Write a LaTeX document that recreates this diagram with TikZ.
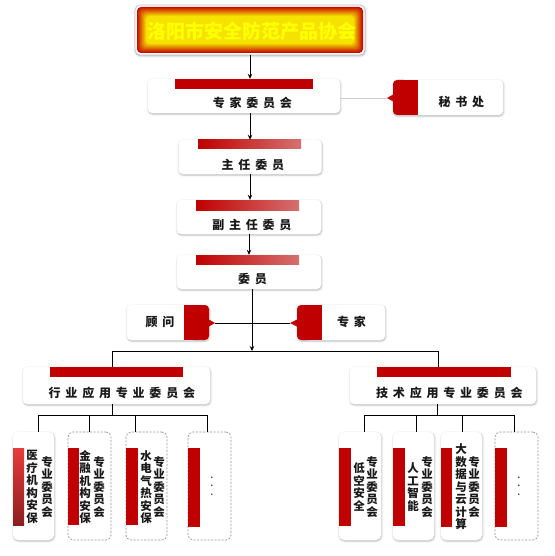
\documentclass[tikz,border=0pt]{standalone}
\usepackage{fontspec}
\newfontfamily\cjk{Noto Sans CJK SC}
\newfontfamily\cjksp{Noto Sans CJK SC}[LetterSpace=40]
\usetikzlibrary{arrows.meta,shadows.blur}
\definecolor{barred}{RGB}{192,0,0}
\definecolor{barlite}{RGB}{214,112,112}
\definecolor{glowred}{RGB}{200,10,0}
\definecolor{glowyel}{RGB}{245,228,0}
\definecolor{titleyel}{RGB}{255,255,0}
\definecolor{txt}{RGB}{25,25,25}
\definecolor{dashgray}{RGB}{150,150,150}
\definecolor{bartop}{RGB}{232,60,60}
\definecolor{barbot}{RGB}{140,30,30}
\begin{document}
\begin{tikzpicture}[x=1pt,y=-1pt,
  box/.style={fill=white, rounded corners=4pt, inner sep=0pt,
    blur shadow={shadow xshift=0.5pt, shadow yshift=-1pt, shadow blur radius=2pt, shadow opacity=30}},
  dbox/.style={fill=white, draw=dashgray, dash pattern=on 2pt off 1.5pt, line width=0.7pt, rounded corners=5pt, inner sep=0pt},
  lbl/.style={font=\cjksp\bfseries\fontsize{12}{12}\selectfont, text=txt, inner sep=0pt},
  vlbl/.style={font=\cjk\bfseries\fontsize{11.5}{12.5}\selectfont, text=txt, inner sep=0pt, align=center},
  dotlbl/.style={font=\bfseries\fontsize{9.5}{8.5}\selectfont, text=txt, inner sep=0pt, align=center},
  ttl/.style={font=\cjk\bfseries\fontsize{19}{19}\selectfont, inner sep=0pt},
  conn/.style={draw=black, line width=1pt},
  arr/.style={conn, -{Stealth[length=5pt,width=4.5pt]}},
  gbar/.style={left color=barred, right color=barlite},
]
\useasboundingbox (0,0) rectangle (554,556);

% ---- title
\node[box, draw=gray!50, line width=0.6pt, rounded corners=5pt, minimum width=230pt, minimum height=50pt] (title) at (250,30) {};
\foreach \i in {0,...,9} {
  \pgfmathtruncatemacro\pc{\i*11}
  \fill[glowyel!\pc!glowred, rounded corners=4pt] ({137+\i},{7+\i}) rectangle ({363-\i},{53-\i});
}
\node[ttl, text=titleyel] (titletxt) at (252,31) {洛阳市安全防范产品协会};

% ---- main chain
\node[box, minimum width=192pt, minimum height=34pt] (zjwyh) at (244,96) {};
\fill[barred] (175,79) rectangle (313,89);
\node[lbl] (zjwyht) at (252.4,103) {专家委员会};

\node[box, minimum width=143pt, minimum height=34pt] (zrwy) at (250,157) {};
\shade[gbar] (198,140) rectangle (301,149);
\node[lbl] (zrwyt) at (252.9,165) {主任委员};

\node[box, minimum width=144pt, minimum height=34pt] (fzrwy) at (249,217) {};
\shade[gbar] (196,200) rectangle (299,210);
\node[lbl] (fzrwyt) at (251.9,225) {副主任委员};

\node[box, minimum width=144pt, minimum height=34pt] (wy) at (249,272) {};
\shade[gbar] (196,255) rectangle (299,264);
\node[lbl] (wyt) at (252.4,279) {委员};

% ---- secretary callout
\node[box, minimum width=110pt, minimum height=35pt] (mss) at (448,97.5) {};
\fill[barred] (402,80) rectangle (418,115);
\fill[barred, rounded corners=4pt] (393,80) rectangle (408,115);
\coordinate (msstip) at (387,98);
\fill[barred] (394,94) -- (msstip) -- (394,102) -- cycle;
\node[lbl] (msst) at (461.4,102) {秘书处};
\draw[draw=black!20, line width=0.8pt] (zjwyh.east |- msstip) -- (msstip);

% ---- advisers / experts callouts
\node[box, minimum width=82pt, minimum height=35pt] (gw) at (168,322.5) {};
\fill[barred] (184,305) rectangle (200,340);
\fill[barred, rounded corners=4pt] (190,305) rectangle (209,340);
\coordinate (gwtip) at (215,323);
\fill[barred] (208,319) -- (gwtip) -- (208,327) -- cycle;
\node[lbl] (gwt) at (160,322) {顾问};

\node[box, minimum width=88pt, minimum height=35pt] (zj) at (341,322.5) {};
\fill[barred] (306,305) rectangle (322,340);
\fill[barred, rounded corners=4pt] (297,305) rectangle (312,340);
\coordinate (zjtip) at (290,323);
\fill[barred] (298,319) -- (zjtip) -- (298,327) -- cycle;
\node[lbl] (zjt) at (351.5,322) {专家};

% ---- second level
\node[box, minimum width=187pt, minimum height=37pt] (hy) at (116.5,385.5) {};
\fill[barred] (50,367) rectangle (183,377);
\node[lbl] (hyt) at (121.9,393) {行业应用专业委员会};

\node[box, minimum width=186pt, minimum height=37pt] (js) at (443,385.5) {};
\fill[barred] (377,367) rectangle (511,377);
\node[lbl] (jst) at (449.4,393) {技术应用专业委员会};

% ---- left leaves
\node[box, rounded corners=5pt, minimum width=41pt, minimum height=108pt] (L1) at (33.5,486) {};
\shade[top color=bartop, bottom color=barbot] (13,448) rectangle (24,525);
\node[vlbl] (L1a) at (32,487) {医\\疗\\机\\构\\安\\保};
\node[vlbl] (L1b) at (47,487) {专\\业\\委\\员\\会};

\node[dbox, minimum width=43pt, minimum height=108pt] (L2) at (89.5,486) {};
\fill[barred] (68,448) rectangle (79,525);
\node[vlbl] (L2a) at (85,487) {金\\融\\机\\构\\安\\保};
\node[vlbl] (L2b) at (99,487) {专\\业\\委\\员\\会};

\node[dbox, minimum width=41pt, minimum height=108pt] (L3) at (146.5,486) {};
\fill[barred] (126,448) rectangle (138,525);
\node[vlbl] (L3a) at (146,487) {水\\电\\气\\热\\安\\保};
\node[vlbl] (L3b) at (159,487) {专\\业\\委\\员\\会};

\node[dbox, minimum width=43pt, minimum height=108pt] (L4) at (209.5,486) {};
\fill[barred] (188,448) rectangle (200,527);
\node[dotlbl] (L4a) at (212,486) {.\\.\\.};

% ---- right leaves
\node[box, rounded corners=5pt, minimum width=42pt, minimum height=108pt] (R1) at (360,486) {};
\fill[barred] (339,448) rectangle (351,526);
\node[vlbl] (R1a) at (359,487) {低\\空\\安\\全};
\node[vlbl] (R1b) at (372,487) {专\\业\\委\\员\\会};

\node[box, rounded corners=5pt, minimum width=41pt, minimum height=108pt] (R2) at (413.5,486) {};
\fill[barred] (393,448) rectangle (405,526);
\node[vlbl] (R2a) at (413,487) {人\\工\\智\\能};
\node[vlbl] (R2b) at (427,487) {专\\业\\委\\员\\会};

\node[box, rounded corners=5pt, minimum width=41pt, minimum height=108pt] (R3) at (461.5,486) {};
\fill[barred] (441,448) rectangle (452,527);
\node[vlbl] (R3a) at (461,487) {大\\数\\据\\与\\云\\计\\算};
\node[vlbl] (R3b) at (474,487) {专\\业\\委\\员\\会};

\node[dbox, minimum width=43pt, minimum height=108pt] (R4) at (516.5,486) {};
\fill[barred] (495,448) rectangle (507,527);
\node[dotlbl] (R4a) at (519,486) {.\\.\\.};

% ---- connectors
\draw[arr] (title.south) -- (title.south |- zjwyh.north);
\draw[arr] (zrwy.north |- zjwyh.south) -- (zrwy.north);
\draw[arr] (zrwy.south) -- (zrwy.south |- fzrwy.north);
\draw[arr] (fzrwy.south) -- (wy.north);

\coordinate (hub) at (252,351);
\coordinate (hL) at (112,351);
\coordinate (hR) at (438,351);
\draw[conn] (gwtip) -- (zjtip);
\draw[conn] (hL) -- (hR);
\draw[arr] (wy.south -| hub) -- (hub);
\draw[conn] (hL) -- (hL |- hy.north);
\draw[conn] (hR) -- (hR |- js.north);

\coordinate (sL) at (112,415);
\coordinate (d1) at (38,415);
\coordinate (d2) at (89,415);
\coordinate (d3) at (135,415);
\coordinate (d4) at (207,415);
\draw[conn] (hy.south -| sL) -- (sL);
\draw[conn] (d1) -- (d4);
\draw[conn] (d1) -- (d1 |- L1.north);
\draw[conn] (d2) -- (d2 |- L2.north);
\draw[conn] (d3) -- (d3 |- L3.north);
\draw[conn] (d4) -- (d4 |- L4.north);

\coordinate (sR) at (437,415);
\coordinate (e1) at (364,415);
\coordinate (e2) at (416,415);
\coordinate (e3) at (462,415);
\coordinate (e4) at (514,415);
\draw[conn] (js.south -| sR) -- (sR);
\draw[conn] (e1) -- (e4);
\draw[conn] (e1) -- (e1 |- R1.north);
\draw[conn] (e2) -- (e2 |- R2.north);
\draw[conn] (e3) -- (e3 |- R3.north);
\draw[conn] (e4) -- (e4 |- R4.north);
\end{tikzpicture}
\end{document}
